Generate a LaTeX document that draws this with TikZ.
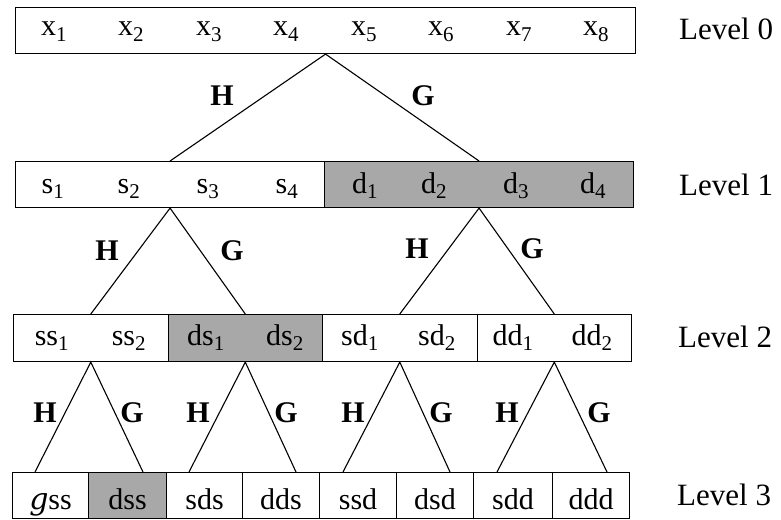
\documentclass[tikz,border=0pt]{standalone}
\usepackage{fontspec}
\setmainfont{Liberation Serif}
\newfontfamily\scriptgfont{DejaVu Serif}
\usetikzlibrary{calc}
\definecolor{shadegray}{RGB}{168,168,168}
\begin{document}
\begin{tikzpicture}[x=1pt,y=-1pt,
  box/.style={draw, line width=1.1pt, rectangle, inner sep=0pt, anchor=north west},
  shaded/.style={fill=shadegray},
  txt/.style={font=\fontsize{30}{32}\selectfont, inner sep=0pt, anchor=base},
  lvl/.style={font=\fontsize{31}{33}\selectfont, inner sep=0pt, anchor=base west},
  lab/.style={font=\fontsize{30}{32}\selectfont\bfseries, inner sep=0pt, anchor=base},
  conn/.style={line width=1.1pt}]
\useasboundingbox (0,0) rectangle (781,519);

% Level 0
\node[box, minimum width=620pt, minimum height=46pt] (L0) at (15,7) {};
\foreach \i/\xx in {1/54,2/131,3/209,4/286,5/364,6/441,7/519,8/596}
  \node[txt] (x\i) at (\xx,36) {x\textsubscript{\i}};
\node[lvl] (lv0) at (679,40) {Level 0};

% Level 1
\node[box, minimum width=309pt, minimum height=46pt] (L1s) at (15,161) {};
\node[box, shaded, minimum width=309pt, minimum height=46pt] (L1d) at (324,161) {};
\foreach \i/\xx in {1/53,2/129,3/208,4/287}
  \node[txt] (s\i) at (\xx,193) {s\textsubscript{\i}};
\foreach \i/\xx in {1/365,2/434,3/516,4/593}
  \node[txt] (d\i) at (\xx,193) {d\textsubscript{\i}};
\node[lvl] (lv1) at (679,195) {Level 1};

% Level 2
\node[box, minimum width=154.5pt, minimum height=47pt] (G2ss) at (13,314) {};
\node[box, shaded, minimum width=154.5pt, minimum height=47pt] (G2ds) at (167.5,314) {};
\node[box, minimum width=154.5pt, minimum height=47pt] (G2sd) at (322,314) {};
\node[box, minimum width=154.5pt, minimum height=47pt] (G2dd) at (476.5,314) {};
\node[txt] (ss1) at (52,345) {ss\textsubscript{1}};
\node[txt] (ss2) at (129,345) {ss\textsubscript{2}};
\node[txt] (ds1) at (206,345) {ds\textsubscript{1}};
\node[txt] (ds2) at (285,345) {ds\textsubscript{2}};
\node[txt] (sd1) at (360,345) {sd\textsubscript{1}};
\node[txt] (sd2) at (437,345) {sd\textsubscript{2}};
\node[txt] (dd1) at (513,345) {dd\textsubscript{1}};
\node[txt] (dd2) at (592,345) {dd\textsubscript{2}};
\node[lvl] (lv2) at (678,347) {Level 2};

% Level 3
\foreach \n/\xl/\w/\st in {c1/12/76/,c2/88/78/shaded,c3/166/76/,c4/242/77/,c5/319/77/,c6/396/77/,c7/473/79/,c8/552/77/}
  \node[box, \st, minimum width=\w pt, minimum height=46pt] (\n) at (\xl,472) {};
\node[txt] (t1) at ($(c1.center)+(0,0)$) [yshift=-14pt] {{\scriptgfont\itshape g}ss};
\node[txt] (t2) at ($(c2.center)$) [yshift=-14pt] {dss};
\node[txt] (t3) at ($(c3.center)$) [yshift=-14pt] {sds};
\node[txt] (t4) at ($(c4.center)$) [yshift=-14pt] {dds};
\node[txt] (t5) at ($(c5.center)$) [yshift=-14pt] {ssd};
\node[txt] (t6) at ($(c6.center)$) [yshift=-14pt] {dsd};
\node[txt] (t7) at ($(c7.center)$) [yshift=-14pt] {sdd};
\node[txt] (t8) at ($(c8.center)$) [yshift=-14pt] {ddd};
\node[lvl] (lv3) at (677,505) {Level 3};

% connectors level 0 -> 1
\draw[conn] (L1s.north) -- (L0.south) -- (L1d.north);
% level 1 -> 2
\draw[conn] (G2ss.north) -- (L1s.south) -- (G2ds.north);
\draw[conn] (G2sd.north) -- (L1d.south) -- (G2dd.north);
% level 2 -> 3
\coordinate (e1) at (35,472);  \coordinate (e2) at (143,472);
\coordinate (e3) at (189,472); \coordinate (e4) at (296,472);
\coordinate (e5) at (343,472); \coordinate (e6) at (450,472);
\coordinate (e7) at (497,472); \coordinate (e8) at (607,472);
\draw[conn] (e1) -- (G2ss.south) -- (e2);
\draw[conn] (e3) -- (G2ds.south) -- (e4);
\draw[conn] (e5) -- (G2sd.south) -- (e6);
\draw[conn] (e7) -- (G2dd.south) -- (e8);

% filter labels
\node[lab] (h0) at (222,105) {H};
\node[lab] (g0) at (423,105) {G};
\node[lab] (h1) at (107,260) {H};
\node[lab] (g1) at (232,260) {G};
\node[lab] (h2) at (417,258) {H};
\node[lab] (g2) at (532,258) {G};
\node[lab] (h3) at (45,422) {H};
\node[lab] (g3) at (132,422) {G};
\node[lab] (h4) at (198,422) {H};
\node[lab] (g4) at (286,422) {G};
\node[lab] (h5) at (353,422) {H};
\node[lab] (g5) at (441,422) {G};
\node[lab] (h6) at (507,422) {H};
\node[lab] (g6) at (599,422) {G};
\end{tikzpicture}
\end{document}
